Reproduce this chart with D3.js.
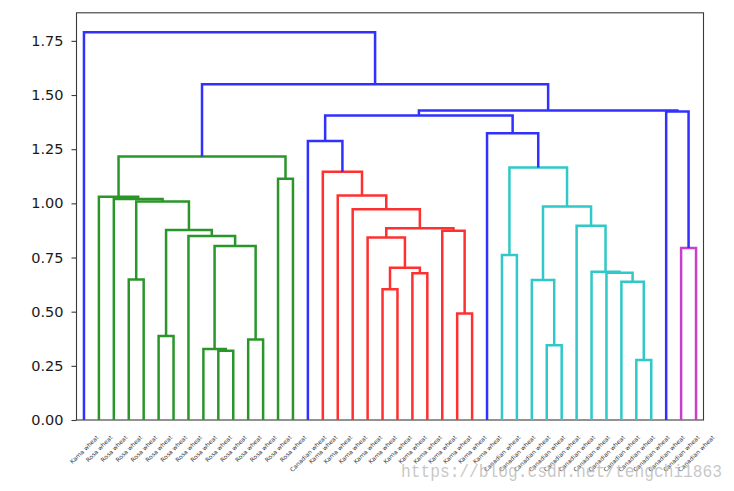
<!DOCTYPE html>
<html><head><meta charset="utf-8">
<script src="https://cdn.jsdelivr.net/npm/d3@7"></script>
<style>body{margin:0;background:#fff}</style>
</head><body>
<svg id="chart" width="734" height="491"></svg>
<script>
// ---- data ----
const leafLabels = [
  "Kama wheat",
  "Rosa wheat","Rosa wheat","Rosa wheat","Rosa wheat","Rosa wheat","Rosa wheat","Rosa wheat",
  "Rosa wheat","Rosa wheat","Rosa wheat","Rosa wheat","Rosa wheat","Rosa wheat","Rosa wheat",
  "Canadian wheat",
  "Kama wheat","Kama wheat","Kama wheat","Kama wheat","Kama wheat","Kama wheat","Kama wheat",
  "Kama wheat","Kama wheat","Kama wheat","Kama wheat",
  "Kama wheat",
  "Canadian wheat","Canadian wheat","Canadian wheat","Canadian wheat","Canadian wheat","Canadian wheat",
  "Canadian wheat","Canadian wheat","Canadian wheat","Canadian wheat","Canadian wheat",
  "Canadian wheat","Canadian wheat","Canadian wheat"
];
// merges: [left child id, right child id, height]; leaves are 0..41, merge k gets id 42+k
const merges = [
  [9,10,0.320],[8,42,0.328],[11,12,0.372],[43,44,0.803],[7,45,0.849],
  [5,6,0.388],[47,46,0.877],[3,4,0.649],[49,48,1.008],[2,50,1.020],
  [1,51,1.031],[13,14,1.113],[52,53,1.216],
  [20,21,0.603],[22,23,0.677],[55,56,0.703],[19,57,0.842],[25,26,0.492],
  [24,59,0.874],[58,60,0.885],[18,61,0.973],[17,62,1.036],[16,63,1.146],
  [15,64,1.288],
  [28,29,0.762],[31,32,0.345],[30,67,0.646],[37,38,0.277],[36,69,0.638],
  [35,70,0.680],[34,71,0.684],[33,72,0.897],[68,73,0.985],[66,74,1.166],
  [27,75,1.323],[65,76,1.405],
  [40,41,0.794],[39,78,1.424],[77,79,1.429],[54,80,1.550],[0,81,1.790]
];
const yTicks = [0.00,0.25,0.50,0.75,1.00,1.25,1.50,1.75];
const clusterColors = ["#2a962a","#ff3030","#30c8c8","#c840c8"];
const aboveColor = "#3030ff";

// ---- layout ----
const svg = d3.select("#chart");
const N = leafLabels.length;
const pL = 76.5, pR = 703.5, pT = 12.8, pB = 420;
const maxH = d3.max(merges, m => m[2]);
const threshold = 0.7 * maxH;

const x = d3.scaleLinear().domain([0, 10 * N]).range([pL, pR]);
const y = d3.scaleLinear().domain([0, maxH * 1.05]).range([pB, pT]);

const nodes = [];
for (let i = 0; i < N; i++) nodes.push({id: i, pos: 5 + 10 * i, h: 0, leaf: true});
merges.forEach((m, k) => {
  const a = nodes[m[0]], b = nodes[m[1]];
  nodes.push({id: N + k, a, b, h: m[2], pos: (a.pos + b.pos) / 2, leaf: false});
});
const rootNode = nodes[nodes.length - 1];

// colour clusters left to right
let ci = 0;
(function walk(n, col) {
  if (n.leaf) return;
  if (n.h < threshold) {
    if (!col) { col = clusterColors[ci % clusterColors.length]; ci++; }
    n.color = col;
  } else n.color = aboveColor;
  walk(n.a, n.h < threshold ? col : null);
  walk(n.b, n.h < threshold ? col : null);
})(rootNode, null);

// frame
svg.append("rect").attr("x", pL).attr("y", pT)
  .attr("width", pR - pL).attr("height", pB - pT)
  .attr("fill", "none").attr("stroke", "#3a3a3a").attr("stroke-width", 1.1);

// links
const links = nodes.filter(n => !n.leaf);
svg.append("g").selectAll("path").data(links).join("path")
  .attr("fill", "none")
  .attr("stroke", d => d.color)
  .attr("stroke-width", 2.5)
  .attr("d", d => `M${x(d.a.pos)},${y(d.a.h)}V${y(d.h)}H${x(d.b.pos)}V${y(d.b.h)}`);

// y axis
const ya = svg.append("g").attr("transform", `translate(${pL},0)`)
  .call(d3.axisLeft(y).tickValues(yTicks).tickFormat(d3.format(".2f")).tickSize(5).tickPadding(8));
ya.select(".domain").remove();
ya.selectAll("line").attr("stroke", "#3a3a3a").attr("stroke-width", 1.1);
ya.selectAll("text").attr("font-family", "DejaVu Sans").attr("font-size", 14.5).attr("fill", "#1a1a1a");

// leaf labels (rotated 45deg, bbox centred on tick)
const lg = svg.append("g");
nodes.filter(n => n.leaf).forEach((n, i) => {
  const g = lg.append("g");
  const t = g.append("text").text(leafLabels[i])
    .attr("font-family", "DejaVu Sans").attr("font-size", 6).attr("fill", "#333")
    .attr("text-anchor", "middle").attr("dominant-baseline", "central")
    .attr("transform", "rotate(-45)");
  const L = t.node().getComputedTextLength();
  const hb = (L + 6) * Math.SQRT1_2;
  g.attr("transform", `translate(${x(n.pos)},${434 + hb / 2})`);
});

// watermark
svg.append("text").text("https://blog.csdn.net/tengchi1863")
  .attr("x", 401).attr("y", 477)
  .attr("font-family", "Liberation Mono").attr("font-size", 19)
  .attr("textLength", 321).attr("lengthAdjust", "spacingAndGlyphs")
  .attr("fill", "#b4b4b4").attr("fill-opacity", 0.75);
</script>
</body></html>
